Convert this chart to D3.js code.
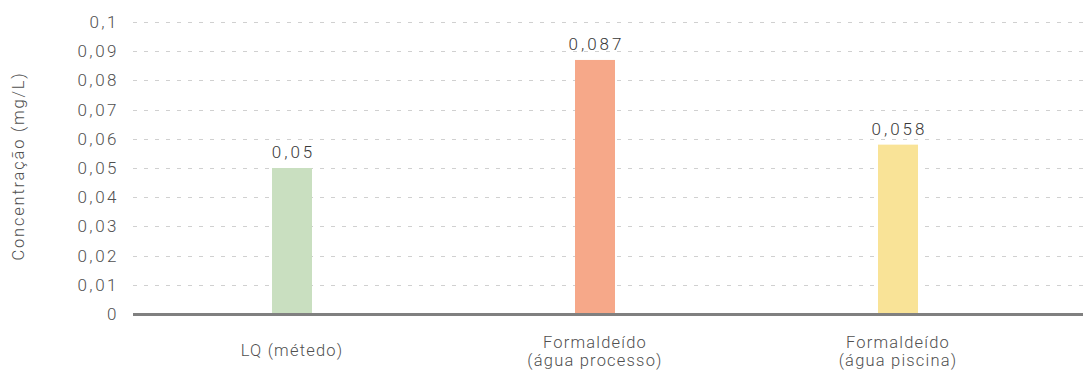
<!DOCTYPE html>
<html lang="pt">
<head>
<meta charset="UTF-8">
<title>Concentração de formaldeído</title>
<script src="https://d3js.org/d3.v7.min.js"></script>
<style>
    body { margin: 0; background: #fff; font-family: Roboto, 'Liberation Sans', Arial, sans-serif; font-weight: 300; }
    .tick-label { font-size: 17px; fill: #505050; letter-spacing: 2.5px; }
    .cat-label { font-size: 16.5px; fill: #505050; letter-spacing: 1.2px; }
    .val-label { font-size: 17px; fill: #383838; letter-spacing: 3px; }
    .axis-title { font-size: 16.5px; fill: #505050; letter-spacing: 1.8px; }
</style>
</head>
<body>
<svg width="1088" height="373"></svg>
<script>
    // data
    const categories = [["LQ (métedo)"], ["Formaldeído", "(água processo)"], ["Formaldeído", "(água piscina)"]];
    const values = [0.05, 0.087, 0.058];
    const valueLabels = ["0,05", "0,087", "0,058"];
    const colors = ["#c9dfc0", "#f6a889", "#f9e397"];
    const yTicks = [0, 0.01, 0.02, 0.03, 0.04, 0.05, 0.06, 0.07, 0.08, 0.09, 0.1];

    const plot = { left: 133, right: 1083, top: 22, bottom: 314 };
    const barW = 40;

    const svg = d3.select("svg");
    const keys = categories.map(c => c.join(" "));

    const x = d3.scaleBand()
        .domain(keys)
        .range([140.5, 1049.5]);

    const y = d3.scaleLinear()
        .domain([0, 0.1])
        .range([plot.bottom, plot.top]);

    const fmt = v => v === 0 ? "0" : String(v).replace(".", ",");

    // grid lines
    svg.append("g")
        .selectAll("line")
        .data(yTicks.filter(t => t > 0))
        .enter()
        .append("line")
        .attr("x1", plot.left)
        .attr("x2", plot.right)
        .attr("y1", d => Math.round(y(d)) + 0.5)
        .attr("y2", d => Math.round(y(d)) + 0.5)
        .attr("stroke", "#d0d0d0")
        .attr("stroke-width", 1)
        .attr("stroke-dasharray", "4,7");

    // y tick labels
    svg.append("g")
        .selectAll("text")
        .data(yTicks)
        .enter()
        .append("text")
        .attr("class", "tick-label")
        .attr("x", 119)
        .attr("y", d => y(d))
        .attr("dy", "0.35em")
        .attr("text-anchor", "end")
        .text(fmt);

    // bars
    svg.append("g")
        .selectAll("rect")
        .data(values)
        .enter()
        .append("rect")
        .attr("x", (d, i) => x(keys[i]) + x.bandwidth() / 2 - barW / 2)
        .attr("y", d => y(d))
        .attr("width", barW)
        .attr("height", d => y(0) - y(d))
        .attr("fill", (d, i) => colors[i]);

    // value labels
    svg.append("g")
        .selectAll("text")
        .data(values)
        .enter()
        .append("text")
        .attr("class", "val-label")
        .attr("x", (d, i) => x(keys[i]) + x.bandwidth() / 2 + 1.5)
        .attr("y", d => y(d) - 10)
        .attr("text-anchor", "middle")
        .text((d, i) => valueLabels[i]);

    // x axis line
    svg.append("line")
        .attr("x1", plot.left)
        .attr("x2", plot.right)
        .attr("y1", y(0) + 0.5)
        .attr("y2", y(0) + 0.5)
        .attr("stroke", "#808080")
        .attr("stroke-width", 3);

    // category labels
    const cat = svg.append("g")
        .selectAll("text")
        .data(categories)
        .enter()
        .append("text")
        .attr("class", "cat-label")
        .attr("text-anchor", "middle")
        .attr("x", (d, i) => x(keys[i]) + x.bandwidth() / 2)
        .attr("y", d => d.length === 1 ? 356 : 348);

    cat.selectAll("tspan")
        .data(d => d)
        .enter()
        .append("tspan")
        .attr("x", function () { return d3.select(this.parentNode).attr("x"); })
        .attr("dy", (d, i) => i === 0 ? 0 : 18)
        .text(d => d);

    // y axis title
    svg.append("text")
        .attr("class", "axis-title")
        .attr("transform", "translate(24,166) rotate(-90)")
        .attr("text-anchor", "middle")
        .text("Concentração (mg/L)");
</script>
</body>
</html>
